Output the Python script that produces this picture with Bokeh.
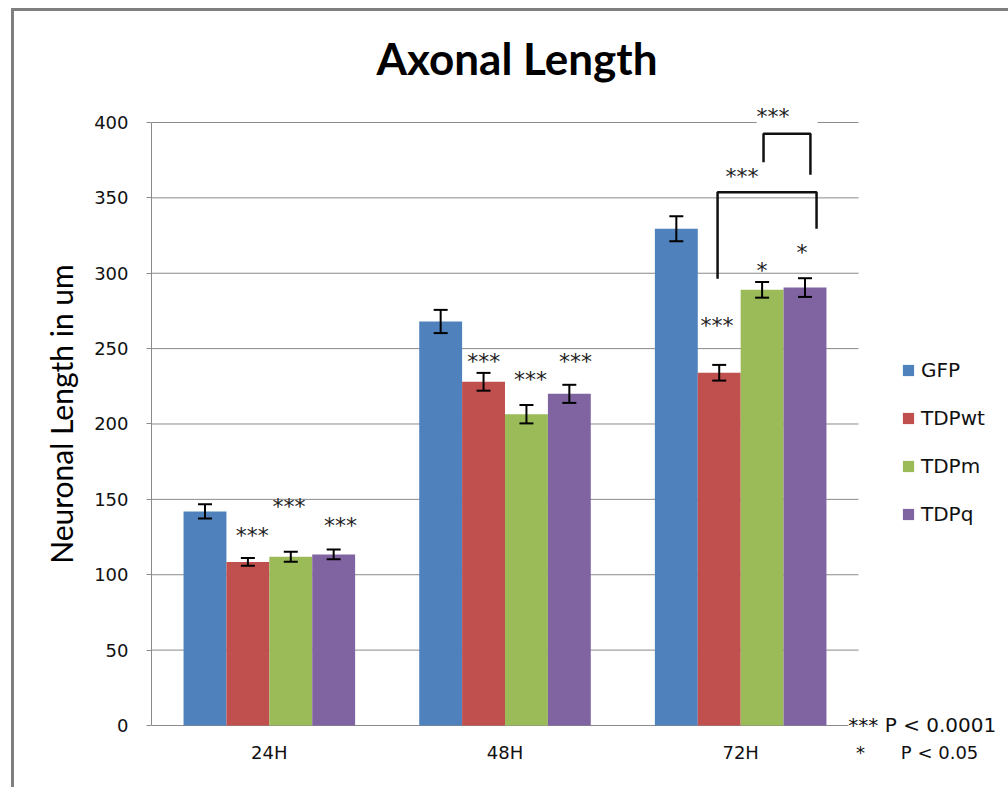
from bokeh.plotting import figure
from bokeh.models import (Range1d, ColumnDataSource, Whisker, TeeHead,
                          Legend, LegendItem, Label, FixedTicker)
from bokeh.embed import file_html
from bokeh.resources import INLINE

# ---------------- data ----------------
groups = ["24H", "48H", "72H"]
series = ["GFP", "TDPwt", "TDPm", "TDPq"]
colors = ["#4F81BD", "#C0504D", "#9BBB59", "#8064A2"]

gfp = [142.0, 268.0, 329.5]
tdpwt = [108.5, 228.0, 234.0]
tdpm = [112.0, 206.5, 289.0]
tdpq = [113.5, 220.0, 290.5]

gfp_err = [4.7, 7.7, 8.3]
tdpwt_err = [2.6, 5.9, 5.2]
tdpm_err = [3.3, 6.1, 5.2]
tdpq_err = [3.3, 6.0, 6.2]

y_ticks = [0, 50, 100, 150, 200, 250, 300, 350, 400]

# significance marks (x in category units, y = centre of the stars)
sig_text = ["***", "***", "***", "***", "***", "***", "***", "*", "*", "***", "  ***  "]
sig_x = [0.427, 0.583, 0.802, 1.410, 1.608, 1.799, 2.400, 2.591, 2.760, 2.506, 2.697]
sig_y = [127.6, 146.4, 134.2, 242.8, 231.0, 242.8, 266.4, 302.9, 315.0, 365.3, 405.0]

# comparison brackets
bracket_xs = [[2.402, 2.402, 2.822, 2.822], [2.597, 2.597, 2.796, 2.796]]
bracket_ys = [[296.3, 353.8, 353.8, 329.5], [373.7, 392.5, 392.5, 365.3]]

# key for significance
key_line1 = "***   P < 0.0001"
key_line2 = ["*", "P < 0.05"]
key_line2_x = [3.008, 3.344]

values = [gfp, tdpwt, tdpm, tdpq]
errors = [gfp_err, tdpwt_err, tdpm_err, tdpq_err]

# ---------------- figure ----------------
p = figure(width=1008, height=787,
           x_range=Range1d(0, 3.6365), y_range=Range1d(-9.287, 422.55),
           output_backend="svg", toolbar_location=None,
           min_border_left=151, min_border_right=0,
           min_border_top=88, min_border_bottom=48)
p.border_fill_color = None
p.background_fill_color = None
p.outline_line_color = None
p.styles = {"box-shadow": "inset 11px 8px 0 0 #ffffff, inset 14px 11px 0 0 #7f7f7f"}

p.title.text = "Axonal Length"
p.title.text_font = "Lato"
p.title.text_font_style = "bold"
p.title.text_font_size = "44px"
p.title.text_color = "#000000"
p.title.align = "left"
p.title.offset = 225
p.title.standoff = 9

p.xgrid.visible = False
p.ygrid.visible = False

# horizontal gridlines (and the category baseline) limited to the three groups
p.segment(x0=0, x1=len(groups), y0=y_ticks, y1=y_ticks,
          line_color="#8a8a8a", line_width=1, level="underlay")

p.yaxis.ticker = FixedTicker(ticks=y_ticks)
p.yaxis.bounds = (0, 400)
p.yaxis.axis_line_color = "#8a8a8a"
p.yaxis.major_tick_line_color = "#8a8a8a"
p.yaxis.major_tick_out = 5
p.yaxis.major_tick_in = 0
p.yaxis.minor_tick_line_color = None
p.yaxis.major_label_text_font = "DejaVu Sans"
p.yaxis.major_label_text_font_size = "18px"
p.yaxis.major_label_text_color = "#111111"
p.yaxis.major_label_standoff = 18
p.yaxis.axis_label = "Neuronal Length in um"
p.yaxis.axis_label_text_font = "Lato"
p.yaxis.axis_label_text_font_style = "normal"
p.yaxis.axis_label_text_font_size = "30px"
p.yaxis.axis_label_text_color = "#000000"
p.yaxis.axis_label_standoff = 12

centers = [i + 0.5 for i in range(len(groups))]
tick_pos = centers + key_line2_x
tick_txt = groups + key_line2
p.xaxis.ticker = FixedTicker(ticks=tick_pos)
p.xaxis.major_label_overrides = {t: s for t, s in zip(tick_pos, tick_txt)}
p.xaxis.axis_line_color = None
p.xaxis.major_tick_line_color = None
p.xaxis.minor_tick_line_color = None
p.xaxis.major_label_text_font = "DejaVu Sans"
p.xaxis.major_label_text_font_size = "18px"
p.xaxis.major_label_text_color = "#111111"
p.xaxis.major_label_standoff = -4

bar_w = 0.182
offsets = [-1.5 * bar_w, -0.5 * bar_w, 0.5 * bar_w, 1.5 * bar_w]

items = []
for name, vals, errs, col, off in zip(series, values, errors, colors, offsets):
    src = ColumnDataSource(dict(
        x=[c + off for c in centers], val=vals,
        upper=[v + e for v, e in zip(vals, errs)],
        lower=[v - e for v, e in zip(vals, errs)]))
    r = p.vbar(x="x", top="val", width=bar_w, source=src,
               fill_color=col, line_color=None)
    w = Whisker(source=src, base="x", upper="upper", lower="lower",
                line_color="black", line_width=2, level="annotation",
                upper_head=TeeHead(size=14, line_color="black", line_width=2),
                lower_head=TeeHead(size=14, line_color="black", line_width=2))
    p.add_layout(w)
    items.append(LegendItem(label=name, renderers=[r]))

# brackets
p.multi_line(xs=bracket_xs, ys=bracket_ys, line_color="#111111", line_width=2.5)

# significance stars
for t, x, y in zip(sig_text, sig_x, sig_y):
    lab = Label(x=x, y=y, text=t, text_font="DejaVu Sans", text_font_size="22px",
                text_align="center", text_baseline="middle", y_offset=-2,
                text_color="#222222")
    if y > 400:
        lab.background_fill_color = "white"
    p.add_layout(lab)

# significance key, first line (second line sits with the axis labels)
p.add_layout(Label(x=2.957, y=0, text=key_line1, text_font="DejaVu Sans",
                   text_font_size="20px", text_align="left", text_baseline="middle",
                   background_fill_color="white", text_color="#111111"))

legend = Legend(items=items, location=(750, 213), orientation="vertical",
                glyph_width=14, glyph_height=14, label_height=20, spacing=24,
                label_standoff=6, padding=0, margin=0,
                border_line_color=None, background_fill_color=None,
                label_text_font="DejaVu Sans", label_text_font_size="20px",
                label_text_color="#111111")
p.add_layout(legend)

open("out.html", "w").write(file_html(p, INLINE))
